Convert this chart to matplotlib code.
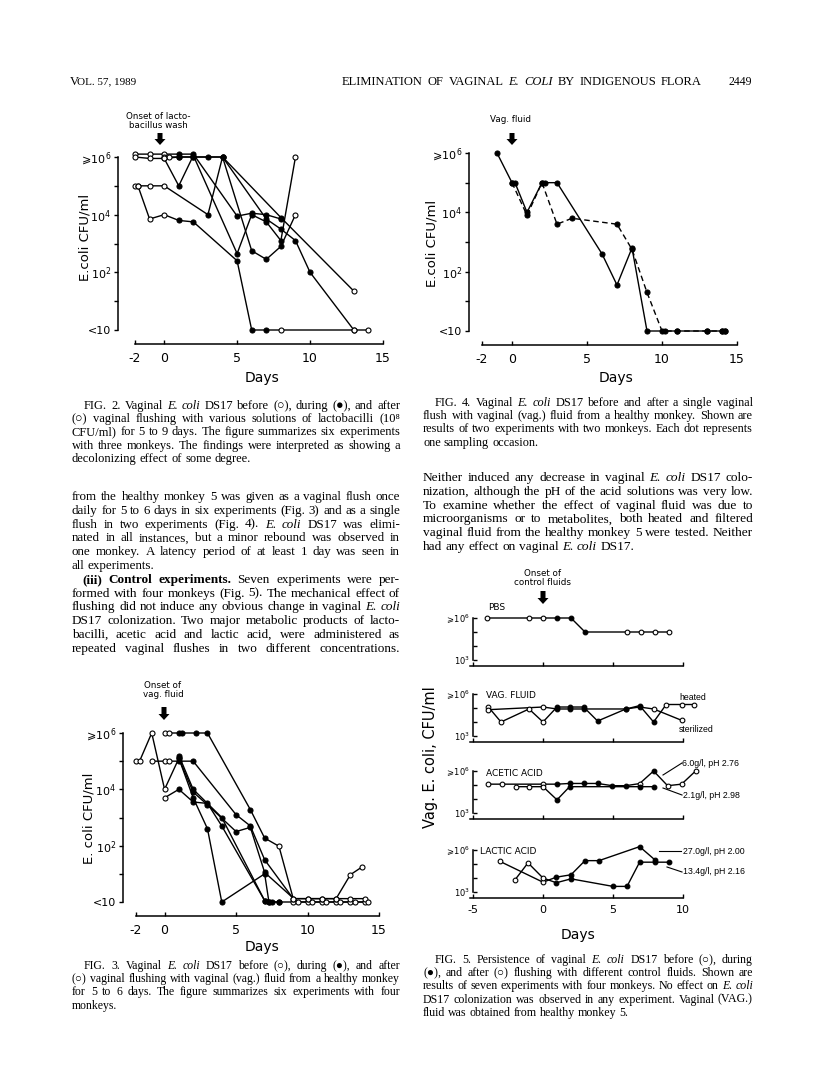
import matplotlib
matplotlib.use('Agg')
import matplotlib.pyplot as plt
from matplotlib.patches import FancyArrow
import numpy as np

W, H = 816, 1080
SERIF = ['Liberation Serif', 'DejaVu Sans']
SANS = ['DejaVu Sans']
plt.rcParams['mathtext.fontset'] = 'dejavusans'
plt.rcParams['font.family'] = SANS

# ---------------- data (days, log10 CFU/ml, filled marker?) ----------------
# Fig. 2 - lactobacillus wash
f2_days = [
    [-2, -1.8, -1, 0, 1, 2, 5, 6, 7, 8, 13, 14],
    [-1.8, -1, 0, 3, 4, 6, 7, 8, 9],
    [-2, -1, 0, 1, 2, 5, 6, 7, 8],
    [-2, -1, 0, 1, 2, 5, 6, 7, 8, 9],
    [0, 0.3, 1, 2, 3, 4, 7, 8, 9, 10, 13],
    [0, 1, 2, 4, 8, 13],
]
f2_vals = [
    [5, 5, 3.85, 4, 3.8, 3.75, 2.4, 0, 0, 0, 0, 0],
    [5, 5, 5, 4, 6, 2.75, 2.45, 2.9, 4.0],
    [6.1, 6.1, 6.1, 6.1, 6.1, 3.95, 4.05, 4.0, 3.85],
    [6, 5.95, 5.95, 5, 6.05, 2.65, 4.0, 3.75, 3.1, 6],
    [6, 6, 6, 6, 6, 6, 3.85, 3.5, 3.1, 2.0, 0],
    [5.95, 6, 6, 6, 3.9, 1.35],
]
f2_fill = [
    [0, 0, 0, 0, 1, 1, 1, 1, 1, 0, 0, 0],
    [0, 0, 0, 1, 1, 1, 1, 1, 0],
    [0, 0, 0, 1, 1, 1, 1, 1, 1],
    [0, 0, 0, 1, 1, 1, 1, 1, 1, 0],
    [0, 0, 1, 1, 1, 1, 1, 1, 1, 1, 0],
    [0, 1, 1, 1, 1, 0],
]

# Fig. 4 - single flush with vaginal fluid
f4_solid_days = [-1, 0, 0.2, 1, 2, 2.2, 3, 6, 7, 8, 9, 10.2, 11, 13, 14, 14.2]
f4_solid_vals = [6, 5, 5, 4, 5, 5, 5, 2.6, 1.55, 2.8, 0, 0, 0, 0, 0, 0]
f4_dash_days = [0, 1, 2, 3, 4, 7, 8, 9, 10, 11, 13, 14, 14.2]
f4_dash_vals = [5, 3.9, 5, 3.6, 3.8, 3.6, 2.75, 1.3, 0, 0, 0, 0, 0]

# Fig. 3 - daily flush with vaginal fluid
f3_days = [
    [-2, -1.75, -0.9, 0, 1, 2, 3, 4, 7, 7.3, 8, 9, 10, 11, 12, 13, 14],
    [-0.9, 0, 0.3, 1, 2, 5, 6, 7, 9, 10, 11, 12, 13, 13.8],
    [0, 0.3, 1, 1.2, 2.2, 3, 6, 7, 8, 9, 10, 11, 12, 13, 14],
    [0, 1, 2, 3, 4, 7, 7.5, 8],
    [1, 2, 4, 7, 7.3],
    [1, 2, 3, 5, 6, 7, 9.3, 10.3, 11.3, 12.3, 13.3, 14.2],
]
f3_vals = [
    [5, 5, 6, 4, 5.1, 3.7, 2.6, 0, 1, 0, 0, 0, 0, 0, 0, 0, 0],
    [5, 5, 5, 5, 5, 3.1, 2.7, 1.5, 0.12, 0.12, 0.12, 0.12, 0.97, 1.24],
    [6, 6, 6, 6, 6, 6, 3.28, 2.27, 1.98, 0.12, 0.12, 0.12, 0.12, 0.12, 0.12],
    [3.7, 4.0, 3.55, 3.5, 2.7, 0.05, 0, 0],
    [5.2, 4.0, 3.0, 0.05, 0],
    [5.1, 3.9, 3.45, 2.5, 2.65, 1.05, 0, 0, 0, 0, 0, 0],
]
f3_fill = [
    [0, 0, 0, 0, 1, 1, 1, 1, 1, 1, 1, 0, 0, 0, 0, 0, 0],
    [0, 0, 0, 1, 1, 1, 1, 1, 0, 0, 0, 0, 0, 0],
    [0, 0, 1, 1, 1, 1, 1, 1, 0, 0, 0, 0, 0, 0, 0],
    [0, 1, 1, 1, 1, 1, 1, 1],
    [1, 1, 1, 1, 1],
    [1, 1, 1, 1, 1, 1, 0, 0, 0, 0, 0, 0],
]

# Fig. 5 - control fluids
pbs_days = [-4, -1, 0, 1, 2, 3, 6, 7, 8, 9]
pbs_vals = [6, 6, 6, 6, 6, 5, 5, 5, 5, 5]
pbs_fill = [0, 0, 0, 1, 1, 1, 0, 0, 0, 0]

heated_days = [-3.9, -3, -1, 0, 1, 1.9, 2.9, 3.9, 5.9, 6.9, 7.9, 8.8, 9.9, 10.8]
heated_vals = [5.07, 4.0, 4.93, 4.0, 5.07, 5.07, 5.07, 4.07, 4.92, 5.17, 4.0, 5.25, 5.25, 5.25]
heated_fill = [0, 0, 0, 0, 1, 1, 1, 1, 1, 1, 1, 0, 0, 0]
steril_days = [-3.9, 0, 1, 1.9, 2.9, 5.9, 6.9, 7.9, 9.9]
steril_vals = [4.88, 5.07, 4.93, 4.93, 4.93, 4.93, 5.07, 4.93, 4.12]
steril_fill = [0, 0, 1, 1, 1, 1, 1, 0, 0]

acet6_days = [-3.9, -2.9, 0, 1, 1.9, 2.9, 3.9, 4.95, 5.9, 6.9, 7.9, 8.9, 9.9, 10.9]
acet6_vals = [5.06, 5.06, 5.06, 5.06, 5.11, 5.11, 5.11, 4.95, 4.95, 5.1, 6.0, 4.95, 5.06, 6.0]
acet6_fill = [0, 0, 0, 1, 1, 1, 1, 1, 1, 0, 1, 0, 0, 0]
acet2_days = [-1.9, -1, 0, 1, 1.9, 6.9, 7.9]
acet2_vals = [4.88, 4.88, 4.88, 3.94, 4.88, 4.88, 4.88]
acet2_fill = [0, 0, 0, 1, 1, 1, 1]

lac27_days = [-3.1, 0, 0.95, 2, 3, 4, 6.9, 8]
lac27_vals = [5.2, 3.7, 4.06, 4.23, 5.24, 5.24, 6.24, 5.29]
lac27_fill = [0, 0, 1, 1, 1, 1, 1, 1]
lac13_days = [-2, -1.07, 0, 0.95, 2, 5, 6, 6.9, 8, 9]
lac13_vals = [3.87, 5.08, 4.0, 3.66, 3.94, 3.4, 3.4, 5.13, 5.13, 5.13]
lac13_fill = [0, 0, 0, 1, 1, 1, 1, 1, 1, 1]

fig = plt.figure(figsize=(W / 100, H / 100), dpi=100)
fig.patch.set_facecolor('white')
page = fig.add_axes([0, 0, 1, 1])
page.set_xlim(0, W)
page.set_ylim(H, 0)
page.axis('off')


def panel(x_ref, y_ref, left, right, top, bottom):
    (px0, d0), (px1, d1) = x_ref
    sx = (d1 - d0) / (px1 - px0)
    (py0, v0), (py1, v1) = y_ref
    sy = (v1 - v0) / (py1 - py0)
    ax = fig.add_axes([left / W, 1 - bottom / H, (right - left) / W, (bottom - top) / H])
    ax.set_xlim(d0 + (left - px0) * sx, d0 + (right - px0) * sx)
    ax.set_ylim(v0 + (bottom - py0) * sy, v0 + (top - py0) * sy)
    ax.patch.set_alpha(0)
    for s in ['top', 'right']:
        ax.spines[s].set_visible(False)
    for s in ['left', 'bottom']:
        ax.spines[s].set_linewidth(1.1)
    return ax


def series(ax, d, v, f, ls='-', ms=3.6):
    d = np.array(d, float)
    v = np.array(v, float)
    f = np.array(f, bool)
    ax.plot(d, v, color='k', lw=1.0, ls=ls, zorder=2, clip_on=False)
    ax.plot(d[~f], v[~f], 'o', mfc='white', mec='k', ms=ms, mew=0.8, zorder=3, clip_on=False)
    ax.plot(d[f], v[f], 'o', mfc='k', mec='k', ms=ms, mew=0.8, zorder=3, clip_on=False)


def big_axes(ax):
    ax.spines['left'].set_bounds(0, 6)
    ax.spines['bottom'].set_bounds(-2, 15)
    ax.set_yticks(range(7), ['<10', '', '$10^2$', '', '$10^4$', '', r'$\geqslant\!10^6$'])
    ax.set_xticks([-2, 0, 5, 10, 15], ['-2', '0', '5', '10', '15'])
    ax.tick_params(axis='y', direction='out', length=3, width=1, labelsize=8, pad=2)
    ax.tick_params(axis='x', direction='in', length=3, width=1, labelsize=9, pad=6)


def ptext(x, y, s, **kw):
    kw.setdefault('ha', 'center')
    kw.setdefault('va', 'center')
    return fig.text(x / W, 1 - y / H, s, **kw)


def arrow(x, y0, y1):
    page.add_patch(FancyArrow(x, y0, 0, y1 - y0, width=5, head_width=11, head_length=6,
                              length_includes_head=True, color='k', lw=0))


# ---- Fig 2
ax2 = panel(((135, -2), (383, 15)), ((157, 6), (330, 0)), 118, 392, 145, 344)
big_axes(ax2)
for d, v, f in zip(f2_days, f2_vals, f2_fill):
    series(ax2, d, v, f)
ptext(85, 237, 'E.coli CFU/ml', rotation=90, fontsize=9.5)
ptext(262, 378, 'Days', fontsize=10)
ptext(158, 121, 'Onset of lacto-\nbacillus wash', fontsize=6.3, linespacing=0.95)
arrow(160, 133, 145)

# ---- Fig 4
ax4 = panel(((482, -2), (737, 15)), ((153, 6), (331, 0)), 469, 745, 140, 345)
big_axes(ax4)
series(ax4, f4_solid_days, f4_solid_vals, [1] * len(f4_solid_days))
series(ax4, f4_dash_days, f4_dash_vals, [1] * len(f4_dash_days), ls=(0, (4, 2.5)))
ptext(432, 243, 'E.coli CFU/ml', rotation=90, fontsize=9.5)
ptext(616, 378, 'Days', fontsize=10)
ptext(510, 120, 'Vag. fluid', fontsize=6.3)
arrow(512, 133, 145)

# ---- Fig 3
ax3 = panel(((136, -2), (379, 15)), ((733, 6), (902, 0)), 123, 388, 725, 916)
big_axes(ax3)
for d, v, f in zip(f3_days, f3_vals, f3_fill):
    series(ax3, d, v, f)
ptext(89, 818, 'E. coli CFU/ml', rotation=90, fontsize=9.5)
ptext(262, 947, 'Days', fontsize=10)
ptext(163, 690, 'Onset of\nvag. fluid', fontsize=6.3, linespacing=0.95)
arrow(164, 707, 720)

# ---- Fig 5
fig5 = [
    (618, 'PBS', [(pbs_days, pbs_vals, pbs_fill)]),
    (694, 'VAG. FLUID', [(heated_days, heated_vals, heated_fill),
                         (steril_days, steril_vals, steril_fill)]),
    (771, 'ACETIC ACID', [(acet6_days, acet6_vals, acet6_fill),
                          (acet2_days, acet2_vals, acet2_fill)]),
    (850, 'LACTIC ACID', [(lac27_days, lac27_vals, lac27_fill),
                          (lac13_days, lac13_vals, lac13_fill)]),
]
for i, (top, name, lines) in enumerate(fig5):
    ax = panel(((473, -5), (683, 10)), ((top, 6), (top + 42, 3)), 473, 692, top - 10, top + 48)
    ax.spines['left'].set_bounds(3, 6)
    ax.spines['bottom'].set_bounds(-5.2, 10)
    ax.set_yticks([3, 4, 5, 6], ['$10^3$', '', '', r'$\geqslant\!10^6$'])
    last = i == len(fig5) - 1
    ax.set_xticks([-5, 0, 5, 10], ['-5', '0', '5', '10'] if last else [])
    ax.tick_params(axis='y', direction='in', length=3, width=1, labelsize=6, pad=2)
    ax.tick_params(axis='x', direction='in', length=3, width=1, labelsize=8, pad=5)
    for d, v, f in lines:
        series(ax, d, v, f, ms=3.4)
    if name == 'PBS':
        ptext(497, top - 11, name, fontsize=6.5)
    else:
        ptext(486 if name != 'LACTIC ACID' else 480, top + 2, name, fontsize=6.5, ha='left')

ptext(430, 757, 'Vag. E. coli, CFU/ml', rotation=90, fontsize=10.5)
ptext(578, 935, 'Days', fontsize=10)
ptext(543, 578, 'Onset of\ncontrol fluids', fontsize=6.3, linespacing=0.95)
arrow(543, 591, 604)

lab = dict(fontsize=6.3, ha='left', family=['Liberation Sans', 'DejaVu Sans'])
ptext(679, 697, 'heated', **lab)
ptext(679, 729, 'sterilized', **lab)
ptext(682, 763, '6.0g/l, pH 2.76', **lab)
ptext(683, 795, '2.1g/l, pH 2.98', **lab)
ptext(683, 851, '27.0g/l, pH 2.00', **lab)
ptext(683, 872, '13.4g/l, pH 2.16', **lab)
for xs, ys in [((663, 682), (775, 763)), ((663, 682), (788, 795)),
               ((659, 681), (851, 851)), ((667, 682), (867, 872))]:
    page.plot(xs, ys, color='k', lw=0.8)

# ---------------- page text ----------------
renderer = fig.canvas.get_renderer()


def word_arts(line, size, y):
    arts = []
    for w in line.split():
        kw = {}
        if w.startswith('*'):
            w = w.strip('*')
            kw['style'] = 'italic'
        elif w.startswith('#'):
            w = w.strip('#')
            kw['weight'] = 'bold'
        arts.append(fig.text(0, 1 - y / H, w, fontsize=size, family=SERIF,
                             va='center', ha='left', **kw))
    return arts


def fit_size(lines, width, base, indent, maxsize, last_full):
    ratios = []
    for i, ln in enumerate(lines):
        if i == len(lines) - 1 and not last_full:
            continue
        arts = word_arts(ln, base, 0)
        ws = sum(t.get_window_extent(renderer).width for t in arts)
        for t in arts:
            t.remove()
        natural = ws + (len(arts) - 1) * base * 100 / 72 * 0.25
        avail = width - (indent if i == 0 else 0)
        ratios.append(avail / natural)
    return min(maxsize, base * min(ratios) * 0.99)


def para_line(x0, x1, y, line, size, justify=True, indent=0):
    arts = word_arts(line, size, y)
    ws = [t.get_window_extent(renderer).width for t in arts]
    n = len(arts)
    if justify and n > 1:
        gap = (x1 - x0 - indent - sum(ws)) / (n - 1)
    else:
        gap = size * 100 / 72 * 0.25
    x = x0 + indent
    for t, w in zip(arts, ws):
        t.set_x(x / W)
        x += w + gap


def paragraph(x0, x1, y0, step, lines, maxsize, indent=12, last_full=False):
    size = fit_size(lines, x1 - x0, 9, indent, maxsize, last_full)
    for i, ln in enumerate(lines):
        just = (i < len(lines) - 1) or last_full
        para_line(x0, x1, y0 + i * step, ln, size, justify=just,
                  indent=indent if i == 0 else 0)


ptext(70, 82, 'V', fontsize=9, ha='left', family=SERIF)
ptext(77, 82, 'OL. 57, 1989', fontsize=8, ha='left', family=SERIF)
paragraph(342, 702, 82, 0, ['ELIMINATION OF VAGINAL *E.* *COLI* BY INDIGENOUS FLORA'],
          9, indent=0, last_full=True)
ptext(752, 82, '2449', fontsize=8.5, ha='right', family=SERIF)

cap2 = ['FIG. 2. Vaginal *E.* *coli* DS17 before (○), during (●), and after',
        '(○) vaginal flushing with various solutions of lactobacilli (10⁸',
        'CFU/ml) for 5 to 9 days. The figure summarizes six experiments',
        'with three monkeys. The findings were interpreted as showing a',
        'decolonizing effect of some degree.']
paragraph(72, 400, 406, 13.2, cap2, 9.2)

cap4 = ['FIG. 4. Vaginal *E.* *coli* DS17 before and after a single vaginal',
        'flush with vaginal (vag.) fluid from a healthy monkey. Shown are',
        'results of two experiments with two monkeys. Each dot represents',
        'one sampling occasion.']
paragraph(423, 753, 403, 13.2, cap4, 9.2)

body_left1 = ['from the healthy monkey 5 was given as a vaginal flush once',
              'daily for 5 to 6 days in six experiments (Fig. 3) and as a single',
              'flush in two experiments (Fig. 4). *E.* *coli* DS17 was elimi-',
              'nated in all instances, but a minor rebound was observed in',
              'one monkey. A latency period of at least 1 day was seen in',
              'all experiments.']
body_left2 = ['#(iii)# #Control# #experiments.# Seven experiments were per-',
              'formed with four monkeys (Fig. 5). The mechanical effect of',
              'flushing did not induce any obvious change in vaginal *E.* *coli*',
              'DS17 colonization. Two major metabolic products of lacto-',
              'bacilli, acetic acid and lactic acid, were administered as',
              'repeated vaginal flushes in two different concentrations.']
paragraph(72, 400, 497, 13.8, body_left1, 10.6, indent=0)
paragraph(72, 400, 497 + 6 * 13.8, 13.8, body_left2, 10.6, indent=10, last_full=True)

body_right = ['Neither induced any decrease in vaginal *E.* *coli* DS17 colo-',
              'nization, although the pH of the acid solutions was very low.',
              'To examine whether the effect of vaginal fluid was due to',
              'microorganisms or to metabolites, both heated and filtered',
              'vaginal fluid from the healthy monkey 5 were tested. Neither',
              'had any effect on vaginal *E.* *coli* DS17.']
paragraph(423, 753, 478, 13.8, body_right, 10.6, indent=0)

cap3 = ['FIG. 3. Vaginal *E.* *coli* DS17 before (○), during (●), and after',
        '(○) vaginal flushing with vaginal (vag.) fluid from a healthy monkey',
        'for 5 to 6 days. The figure summarizes six experiments with four',
        'monkeys.']
paragraph(72, 400, 966, 13.2, cap3, 9.2)

cap5 = ['FIG. 5. Persistence of vaginal *E.* *coli* DS17 before (○), during',
        '(●), and after (○) flushing with different control fluids. Shown are',
        'results of seven experiments with four monkeys. No effect on *E.* *coli*',
        'DS17 colonization was observed in any experiment. Vaginal (VAG.)',
        'fluid was obtained from healthy monkey 5.']
paragraph(423, 753, 960, 13.2, cap5, 9.2)

fig.savefig('out.png', dpi=100, facecolor='white')
